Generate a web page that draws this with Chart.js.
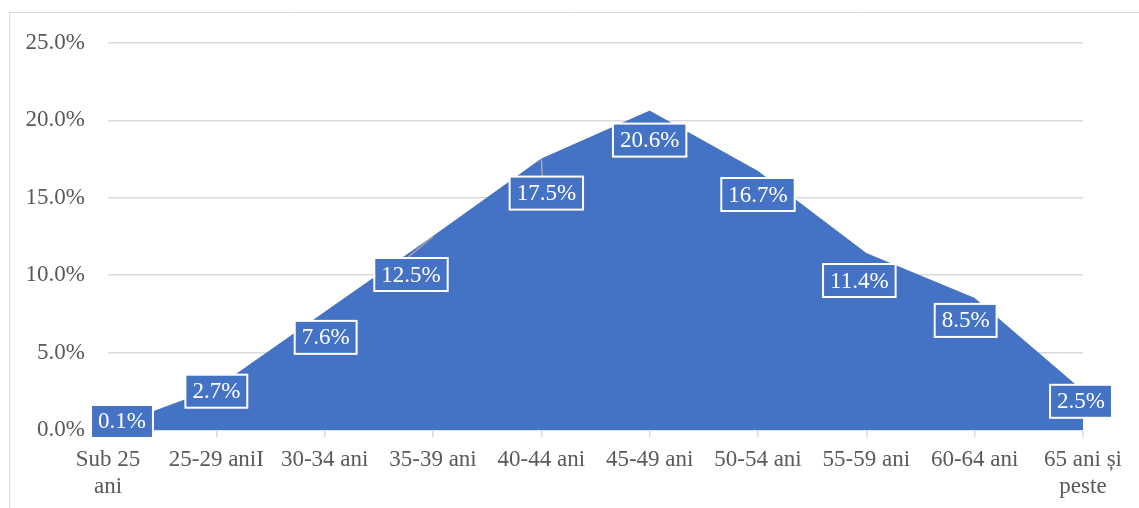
<!DOCTYPE html>
<html>
<head>
<meta charset="utf-8">
<script src="https://cdn.jsdelivr.net/npm/chart.js@4.4.1/dist/chart.umd.min.js"></script>
<style>
  html, body { margin: 0; padding: 0; background: #fff; }
  #wrap { width: 1139px; height: 508px; position: relative; }
</style>
</head>
<body>
<div id="wrap"><canvas id="ageChart"></canvas></div>
<script>
// Age groups and share of each group (in %)
var ageLabels = [['Sub 25', 'ani'], '25-29 aniI', '30-34 ani', '35-39 ani', '40-44 ani',
                 '45-49 ani', '50-54 ani', '55-59 ani', '60-64 ani', ['65 ani și', 'peste']];
var shareValues = [0.1, 2.7, 7.6, 12.5, 17.5, 20.6, 16.7, 11.4, 8.5, 2.5];
var yTicks = [0, 5, 10, 15, 20, 25];

// where each label box sits relative to its point (pixels)
var labelShiftX = [14, 0, 1, -22, 5, 0, 0, -7, -9, -2];
var labelShiftY = [-7, 3, 25, 38, 34, 29, 23, 27, 22, 10];

var serif = '"Liberation Serif", "Times New Roman", serif';

// light frame round the chart, like the office chart border
var framePlugin = {
    id: 'frame',
    beforeDraw: function (chart) {
        var ctx = chart.ctx;
        ctx.save();
        ctx.strokeStyle = '#d9d9d9';
        ctx.lineWidth = 1;
        ctx.beginPath();
        ctx.moveTo(9.5, 508);
        ctx.lineTo(9.5, 12.5);
        ctx.lineTo(1139, 12.5);
        ctx.stroke();
        ctx.restore();
    }
};

// boxed data labels
var boxLabelPlugin = {
    id: 'boxLabels',
    afterDatasetsDraw: function (chart) {
        var ctx = chart.ctx;
        var meta = chart.getDatasetMeta(0);
        ctx.save();
        ctx.font = '23px ' + serif;
        ctx.textAlign = 'center';
        ctx.textBaseline = 'middle';
        meta.data.forEach(function (pt, i) {
            var text = shareValues[i].toFixed(1) + '%';
            var w = ctx.measureText(text).width + 14;
            var h = 33;
            var cx = pt.x + labelShiftX[i];
            var cy = pt.y + labelShiftY[i];
            var left = cx - w / 2, top = cy - h / 2;
            // leader line only when the box was pushed sideways and down
            if (Math.abs(labelShiftX[i]) > 4 && labelShiftY[i] > 30) {
                ctx.strokeStyle = '#a6a6a6';
                ctx.lineWidth = 1.5;
                ctx.beginPath();
                ctx.moveTo(pt.x, pt.y);
                ctx.lineTo(cx - 4, top);
                ctx.stroke();
            }
            ctx.fillStyle = '#4472c4';
            ctx.fillRect(left, top, w, h);
            ctx.strokeStyle = '#ffffff';
            ctx.lineWidth = 2;
            ctx.strokeRect(left, top, w, h);
            ctx.fillStyle = '#ffffff';
            ctx.fillText(text, cx, cy + 1);
        });
        ctx.restore();
    }
};

var ctxAge = document.getElementById('ageChart').getContext('2d');
var ageChart = new Chart(ctxAge, {
    type: 'line',
    data: {
        labels: ageLabels,
        datasets: [{
            data: shareValues,
            fill: 'origin',
            backgroundColor: '#4472c4',
            borderColor: '#4472c4',
            borderWidth: 1,
            pointRadius: 0,
            tension: 0
        }]
    },
    options: {
        responsive: true,
        maintainAspectRatio: false,
        animation: false,
        layout: {
            padding: { left: 0, right: 56, top: 43, bottom: 0 }
        },
        plugins: {
            legend: { display: false },
            tooltip: { enabled: false }
        },
        scales: {
            x: {
                offset: false,
                grid: {
                    drawOnChartArea: false,
                    drawTicks: true,
                    tickLength: 7,
                    color: '#d9d9d9',
                    lineWidth: 1.5
                },
                border: { display: true, color: '#d9d9d9', width: 1.5 },
                ticks: {
                    color: '#595959',
                    font: { family: serif, size: 23, lineHeight: 1.15 },
                    padding: 10,
                    maxRotation: 0,
                    autoSkip: false
                },
                afterFit: function (scale) { scale.height = 78; }
            },
            y: {
                min: 0,
                max: 25,
                afterBuildTicks: function (scale) {
                    scale.ticks = yTicks.map(function (v) { return { value: v }; });
                },
                grid: {
                    color: '#d9d9d9',
                    lineWidth: 1.5,
                    drawTicks: false
                },
                border: { display: false },
                ticks: {
                    color: '#595959',
                    font: { family: serif, size: 23 },
                    padding: 23,
                    callback: function (v) { return v.toFixed(1) + '%'; }
                },
                afterFit: function (scale) { scale.width = 108; }
            }
        }
    },
    plugins: [framePlugin, boxLabelPlugin]
});
</script>
</body>
</html>
